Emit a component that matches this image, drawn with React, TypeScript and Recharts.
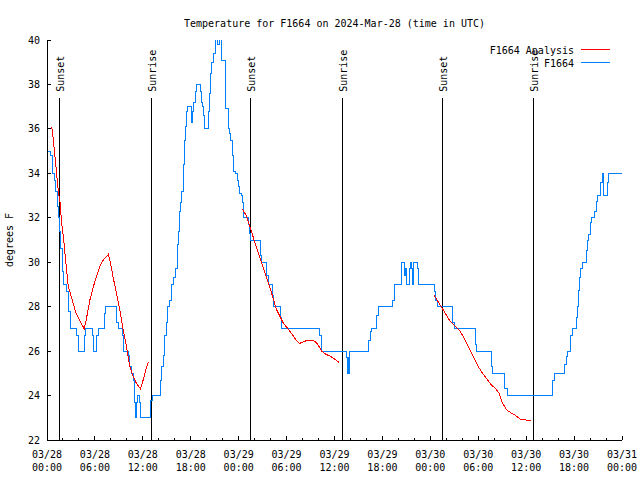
import { LineChart, Line, XAxis, YAxis, ReferenceLine } from "recharts";

const FONT = '"DejaVu Sans Mono", monospace';

// station readings: [hour since 03/28 00:00 UTC, degrees F]
const stationReadings: [number, number][] = [
  [0.15, 35.0], [0.45, 34.8], [0.65, 34.0], [0.9, 33.7], [1.1, 33.2], [1.3, 32.5], [1.45, 32.0],
  [1.6, 31.4], [1.7, 30.6], [1.95, 29.6], [2.1, 29.0], [2.4, 28.7], [2.65, 27.8], [2.9, 27.0],
  [3.7, 26.7], [3.9, 26.0], [4.65, 26.7], [4.8, 27.0], [5.65, 26.7], [5.8, 26.0], [6.2, 26.7],
  [6.4, 27.0], [7.15, 27.7], [7.35, 28.0], [8.7, 27.3], [8.9, 27.0], [9.4, 26.7], [9.6, 26.0],
  [10.15, 25.8], [10.35, 25.3], [10.55, 25.0], [10.8, 24.7], [11.0, 23.7], [11.08, 23.0],
  [11.18, 23.7], [11.35, 24.0], [11.6, 23.7], [11.7, 23.0], [13.0, 23.8], [13.15, 24.0],
  [14.2, 24.7], [14.35, 25.3], [14.55, 25.8], [14.75, 26.7], [14.95, 27.3], [15.15, 28.0],
  [15.35, 28.3], [15.65, 29.0], [15.9, 29.3], [16.1, 29.7], [16.3, 30.8], [16.45, 31.4],
  [16.6, 32.3], [16.75, 32.7], [16.9, 33.2], [17.05, 34.4], [17.2, 35.5], [17.35, 36.1],
  [17.5, 36.8], [17.65, 37.0], [18.1, 36.3], [18.2, 36.8], [18.35, 37.2], [18.55, 37.7],
  [18.7, 38.0], [19.2, 37.7], [19.3, 37.2], [19.45, 37.0], [19.6, 36.6], [19.7, 36.0],
  [20.2, 36.8], [20.35, 37.6], [20.5, 38.5], [20.6, 39.0], [20.9, 39.4], [21.1, 40.3],
  [21.4, 39.8], [21.6, 40.3], [21.8, 39.1], [22.4, 36.9], [22.7, 36.0], [22.85, 35.8],
  [23.0, 35.5], [23.2, 34.8], [23.4, 34.1], [23.6, 34.0], [23.8, 33.7], [23.95, 33.4],
  [24.1, 33.1], [24.3, 33.0], [24.45, 32.7], [24.65, 32.0], [25.2, 31.7], [25.3, 31.3],
  [25.45, 31.0], [26.7, 30.3], [26.85, 30.0], [27.45, 29.4], [27.7, 29.0], [28.2, 28.5],
  [28.4, 28.0], [29.2, 27.5], [29.35, 27.0], [34.1, 26.7], [34.35, 26.0], [37.5, 25.7],
  [37.6, 25.0], [37.7, 25.7], [37.8, 25.0], [37.9, 26.0], [40.3, 26.5], [40.45, 26.9],
  [40.65, 27.0], [41.3, 27.6], [41.45, 28.0], [43.3, 28.3], [43.55, 29.0], [44.33, 29.6],
  [44.45, 30.0], [44.8, 29.4], [44.95, 29.7], [45.05, 29.0], [45.35, 29.7], [45.5, 30.0],
  [45.65, 29.7], [45.8, 29.0], [45.88, 30.0], [46.4, 29.7], [46.55, 29.0], [48.5, 28.7],
  [48.7, 28.3], [48.95, 28.0], [50.8, 27.3], [51.0, 27.0], [53.6, 26.3], [53.8, 26.0],
  [55.6, 25.3], [55.8, 25.0], [57.3, 24.3], [57.6, 24.0], [63.3, 24.7], [63.55, 25.0],
  [64.8, 25.4], [65.0, 25.75], [65.2, 26.0], [65.5, 26.35], [65.6, 26.7], [65.75, 27.0],
  [66.25, 27.5], [66.4, 28.0], [66.55, 28.75], [66.7, 29.3], [66.85, 29.7], [67.0, 30.0],
  [67.5, 30.55], [67.65, 31.0], [67.85, 31.25], [68.0, 31.8], [68.15, 32.0], [68.6, 32.3],
  [68.75, 32.75], [68.9, 33.0], [69.35, 33.6], [69.5, 34.0], [69.7, 33.0], [70.2, 33.6],
  [70.35, 34.0], [72.0, 34.0],
];

// analysis runs (three nights)
const analysisNight1: [number, number][] = [
  [0.6, 36.1], [0.8, 35.5], [1.0, 34.75], [1.2, 34.0], [1.4, 33.25], [1.65, 32.65],
  [1.83, 31.75], [2.05, 31.15], [2.25, 30.4], [2.45, 29.65], [2.67, 28.9], [3.08, 28.4],
  [3.63, 27.7], [4.12, 27.35], [4.67, 27.0], [4.96, 27.5], [5.37, 28.3], [5.8, 28.9],
  [6.2, 29.35], [6.62, 29.8], [7.04, 30.1], [7.67, 30.35], [7.96, 29.95], [8.29, 29.3],
  [8.71, 28.6], [9.12, 27.85], [9.54, 26.95], [9.96, 26.2], [10.37, 25.3], [10.8, 24.85],
  [11.2, 24.55], [11.7, 24.3], [12.04, 24.7], [12.37, 25.15], [12.67, 25.5],
];
const analysisNight2: [number, number][] = [
  [24.46, 32.4], [24.96, 32.1], [25.37, 31.65], [25.8, 31.15], [26.2, 30.7], [26.6, 30.25],
  [27.04, 29.8], [27.46, 29.35], [27.88, 28.9], [28.3, 28.4], [28.7, 27.9], [29.12, 27.6],
  [29.54, 27.3], [30.17, 27.0], [30.8, 26.7], [31.2, 26.5], [31.62, 26.35], [32.04, 26.4],
  [32.67, 26.5], [33.5, 26.45], [33.9, 26.3], [34.4, 26.0], [34.96, 25.85], [35.58, 25.75],
  [36.0, 25.65], [36.54, 25.5],
];
const analysisNight3: [number, number][] = [
  [48.5, 28.5], [49.54, 27.9], [50.37, 27.4], [51.0, 27.15], [51.62, 26.95], [52.04, 26.7],
  [52.67, 26.25], [53.3, 25.8], [53.92, 25.35], [54.54, 25.0], [55.17, 24.7], [55.58, 24.5],
  [56.2, 24.3], [56.62, 24.1], [57.04, 23.65], [57.58, 23.35], [58.2, 23.2], [58.7, 23.1],
  [59.2, 22.95], [59.96, 22.9], [60.58, 22.9],
];

const eventHours = [1.54, 13.04, 25.54, 37.04, 49.54, 60.9];
const eventNames = ["Sunset", "Sunrise", "Sunset", "Sunrise", "Sunset", "Sunrise"];
const eventLineTop = 37.4;

const hourTicks = [0, 2, 4, 6, 8, 10, 12, 14, 16, 18, 20, 22, 24, 26, 28, 30, 32, 34, 36, 38,
  40, 42, 44, 46, 48, 50, 52, 54, 56, 58, 60, 62, 64, 66, 68, 70, 72];
const labelHours = [0, 6, 12, 18, 24, 30, 36, 42, 48, 54, 60, 66, 72];
const labelDays = ["03/28", "03/28", "03/28", "03/28", "03/29", "03/29", "03/29", "03/29",
  "03/30", "03/30", "03/30", "03/30", "03/31"];
const labelTimes = ["00:00", "06:00", "12:00", "18:00", "00:00", "06:00", "12:00", "18:00",
  "00:00", "06:00", "12:00", "18:00", "00:00"];
const tempTicks = [22, 24, 26, 28, 30, 32, 34, 36, 38, 40];

const toRows = (pts: [number, number][]) => pts.map(([h, t]) => ({ h, t }));
const stationData = toRows(stationReadings);
const analysisData = [
  ...toRows(analysisNight1),
  { h: 18, t: null },
  ...toRows(analysisNight2),
  { h: 42, t: null },
  ...toRows(analysisNight3),
];

const textStyle = { fontFamily: FONT, fontSize: 10, fill: "#000" };

function BottomTick(props: any) {
  const { x, y, payload } = props;
  const i = labelHours.indexOf(payload.value);
  const len = i >= 0 ? 4 : 2;
  return (
    <g>
      <line x1={x} y1={y} x2={x} y2={y - len} stroke="#000" shapeRendering="crispEdges" />
      {i >= 0 && (
        <text x={x} y={y + 17.5} textAnchor="middle" style={textStyle}>{labelDays[i]}</text>
      )}
      {i >= 0 && (
        <text x={x} y={y + 30.5} textAnchor="middle" style={textStyle}>{labelTimes[i]}</text>
      )}
    </g>
  );
}

function TopTick(props: any) {
  const { x, y, payload } = props;
  const len = labelHours.includes(payload.value) ? 4 : 2;
  return <line x1={x} y1={y} x2={x} y2={y + len} stroke="#000" shapeRendering="crispEdges" />;
}

function LeftTick(props: any) {
  const { x, y, payload } = props;
  return (
    <g>
      <line x1={x} y1={y} x2={x + 4} y2={y} stroke="#000" shapeRendering="crispEdges" />
      <text x={x - 7} y={y + 3.5} textAnchor="end" style={textStyle}>{payload.value}</text>
    </g>
  );
}

function RightTick(props: any) {
  const { x, y } = props;
  return <line x1={x} y1={y} x2={x - 4} y2={y} stroke="#000" shapeRendering="crispEdges" />;
}

function yLabel(props: any) {
  const vb = props.viewBox || {};
  const cy = (vb.y ?? 40) + (vb.height ?? 400) / 2;
  const x = 13;
  return (
    <text x={x} y={cy} transform={`rotate(-90, ${x}, ${cy})`} textAnchor="middle" style={textStyle}>
      degrees F
    </text>
  );
}

function eventLabel(name: string) {
  return (props: any) => {
    const vb = props.viewBox || props;
    const x = vb.x + 4.5;
    const y = vb.y - 6;
    return (
      <text x={x} y={y} transform={`rotate(-90, ${x}, ${y})`} textAnchor="start" style={textStyle}>
        {name}
      </text>
    );
  };
}

export default function App() {
  return (
    <div style={{ position: "absolute", left: 0, top: 0, width: 640, height: 480, background: "#fff" }}>
      <LineChart width={640} height={480} margin={{ top: 40, right: 18, bottom: 0, left: 0 }}>
        <XAxis
          xAxisId="b"
          dataKey="h"
          type="number"
          domain={[0, 72]}
          ticks={hourTicks}
          interval={0}
          tickSize={0}
          tickMargin={0}
          height={40}
          tickLine={false}
          axisLine={{ stroke: "#000", shapeRendering: "crispEdges" }}
          tick={<BottomTick />}
          allowDataOverflow
        />
        <XAxis
          xAxisId="t"
          orientation="top"
          dataKey="h"
          type="number"
          domain={[0, 72]}
          ticks={hourTicks}
          interval={0}
          tickSize={0}
          tickMargin={0}
          height={0}
          tickLine={false}
          axisLine={{ stroke: "#000", shapeRendering: "crispEdges" }}
          tick={<TopTick />}
          allowDataOverflow
        />
        <YAxis
          yAxisId="l"
          type="number"
          domain={[22, 40]}
          ticks={tempTicks}
          interval={0}
          tickSize={0}
          tickMargin={0}
          width={47}
          tickLine={false}
          axisLine={{ stroke: "#000", shapeRendering: "crispEdges" }}
          tick={<LeftTick />}
          label={{ content: yLabel }}
          allowDataOverflow
        />
        <YAxis
          yAxisId="r"
          orientation="right"
          type="number"
          domain={[22, 40]}
          ticks={tempTicks}
          interval={0}
          tickSize={0}
          tickMargin={0}
          width={0}
          tickLine={false}
          axisLine={{ stroke: "#000", shapeRendering: "crispEdges" }}
          tick={<RightTick />}
          allowDataOverflow
        />
        {eventHours.map((h, i) => (
          <ReferenceLine
            key={i}
            xAxisId="b"
            yAxisId="l"
            segment={[{ x: h, y: 22 }, { x: h, y: eventLineTop }]}
            stroke="#000"
            strokeWidth={1}
            shapeRendering="crispEdges"
            label={eventLabel(eventNames[i])}
          />
        ))}
        <Line
          xAxisId="b"
          yAxisId="l"
          data={stationData}
          dataKey="t"
          type="stepAfter"
          stroke="#0080ff"
          strokeWidth={1}
          dot={false}
          isAnimationActive={false}
          shapeRendering="crispEdges"
        />
        <Line
          xAxisId="b"
          yAxisId="l"
          data={analysisData}
          dataKey="t"
          type="linear"
          stroke="#ff0000"
          strokeWidth={1}
          dot={false}
          isAnimationActive={false}
          shapeRendering="crispEdges"
        />
      </LineChart>
      <svg width={640} height={480} style={{ position: "absolute", left: 0, top: 0, pointerEvents: "none" }}>
        <text x={334.5} y={27} textAnchor="middle" style={textStyle}>
          Temperature for F1664 on 2024-Mar-28 (time in UTC)
        </text>
        <text x={574} y={53.5} textAnchor="end" style={textStyle}>F1664 Analysis</text>
        <line x1={581} y1={49.5} x2={610} y2={49.5} stroke="#ff0000" />
        <text x={574} y={66.5} textAnchor="end" style={textStyle}>F1664</text>
        <line x1={581} y1={62.5} x2={610} y2={62.5} stroke="#0080ff" />
      </svg>
    </div>
  );
}
